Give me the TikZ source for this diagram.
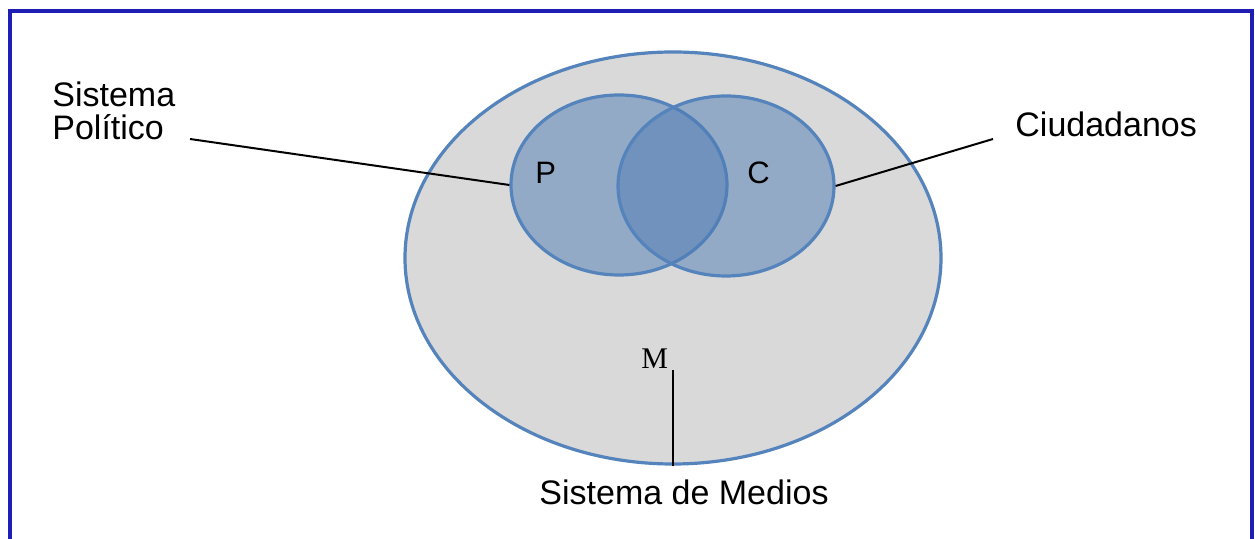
\documentclass[tikz,border=0pt]{standalone}
\usepackage{fontspec}
\setmainfont{Liberation Sans}
\newfontfamily\mserif{Liberation Serif}
\usetikzlibrary{shapes.geometric}
\definecolor{framecol}{HTML}{1E1EB4}
\definecolor{edgeblue}{HTML}{5584BC}
\definecolor{setblue}{HTML}{4F7CB5}
\definecolor{biggray}{HTML}{D9D9D9}
\tikzset{
  setshape/.style={ellipse, draw=edgeblue, line width=1.6pt, inner sep=0pt},
  setfill/.style={setshape, fill=setblue, fill opacity=0.5, text opacity=1},
  lbl/.style={font=\fontsize{17pt}{16.5pt}\selectfont, inner sep=0pt, align=left},
  letter/.style={font=\fontsize{15.5pt}{15.5pt}\selectfont, inner sep=0pt},
  leader/.style={draw=black, line width=1pt},
}
\begin{document}
\begin{tikzpicture}[x=0.5pt,y=-0.5pt]
\useasboundingbox (0,0) rectangle (1255,539);
\fill[white] (0,0) rectangle (1255,539);
\draw[framecol, line width=1.6pt] (10,560) -- (10,11) -- (1252,11) -- (1252,560);
% big ellipse
\node[setshape, fill=biggray, minimum width=268pt, minimum height=206pt] (big) at (673,258) {};
% P and C circles
\node[setfill, minimum width=108pt, minimum height=90pt] (pc) at (619,185) {};
\node[setfill, minimum width=108pt, minimum height=90pt] (cc) at (726,186) {};
% letters
\node[letter, anchor=base west] (p) at (535,184) {P};
\node[letter, anchor=base west] (c) at (747,184) {C};
\node[font=\mserif\fontsize{15pt}{15pt}\selectfont, inner sep=0pt, anchor=base west] (m) at (641,369) {M};
% labels
\node[lbl, anchor=base west] (sp) at (52,140) {Sistema\\Político};
\node[lbl, anchor=base west] (ciu) at (1015,137) {Ciudadanos};
\node[lbl, anchor=base] (sm) at (684,505) {Sistema de Medios};
% leader endpoints
\coordinate (spend) at (190,139);
\coordinate (ciuend) at (993,139);
\coordinate (mtop) at (673,370);
% leaders
\draw[leader] (spend) -- (pc.west);
\draw[leader] (ciuend) -- (cc.east);
\draw[leader] (mtop) -- (big.south);
\end{tikzpicture}
\end{document}
